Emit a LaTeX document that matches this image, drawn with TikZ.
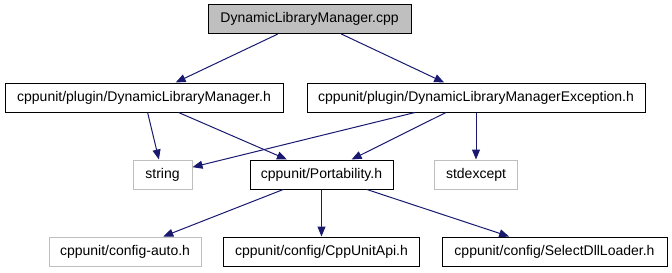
\documentclass[tikz,border=0pt]{standalone}
\usepackage{fontspec}
\setmainfont{Liberation Sans}
\usetikzlibrary{arrows.meta}
\definecolor{edgeblue}{HTML}{191970}
\definecolor{lightframe}{HTML}{BFBFBF}
\begin{document}
\begin{tikzpicture}[x=0.75pt,y=-0.75pt,
  file/.style={draw=black, line width=0.75pt, minimum height=21.75pt,
    inner sep=0pt, fill=white, font=\fontsize{10.5}{12}\selectfont},
  ext/.style={file, draw=lightframe},
  root/.style={file, fill=lightframe},
  dep/.style={draw=edgeblue, line width=0.75pt,
    -{Triangle[length=7.5pt,width=6pt]}}]
\useasboundingbox (0,0) rectangle (672,272);

% include graph nodes
\node[root, minimum width=152.25pt] (cpp)    at (309.5,19)   {DynamicLibraryManager.cpp};
\node[file, minimum width=208.5pt]  (dlm)    at (144,97.5)   {cppunit/plugin/DynamicLibraryManager.h};
\node[file, minimum width=253.5pt]  (dlme)   at (476,97.5)   {cppunit/plugin/DynamicLibraryManagerException.h};
\node[ext,  minimum width=44.25pt]  (str)    at (162.5,174.5) {string};
\node[file, minimum width=107.25pt] (port)   at (321.5,174.5) {cppunit/Portability.h};
\node[ext,  minimum width=62.25pt]  (stdexc) at (476,174.5)  {stdexcept};
\node[ext,  minimum width=114pt]    (cauto)  at (125,251.5)  {cppunit/config-auto.h};
\node[file, minimum width=147pt]    (api)    at (321.5,251.5) {cppunit/config/CppUnitApi.h};
\node[file, minimum width=168.75pt] (sel)    at (554.5,251.5) {cppunit/config/SelectDllLoader.h};

% dependencies
\draw[dep] (cpp) -- (dlm);
\draw[dep] (cpp) -- (dlme);
\draw[dep] (dlm) -- (str);
\draw[dep] (dlm) -- (port);
\draw[dep] (dlme) -- (str);
\draw[dep] (dlme) -- (port);
\draw[dep] (dlme) -- (stdexc);
\draw[dep] (port) -- (cauto);
\draw[dep] (port) -- (api);
\draw[dep] (port) -- (sel);
\end{tikzpicture}
\end{document}
